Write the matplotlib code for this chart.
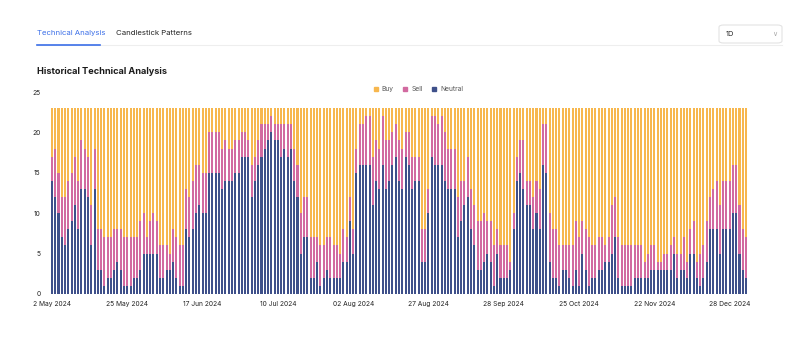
import matplotlib.pyplot as plt
from matplotlib.patches import FancyBboxPatch, Patch
from matplotlib.lines import Line2D

plt.rcParams['font.family'] = ['Inter', 'DejaVu Sans']

# (neutral count, neutral + sell), total is always 23
pairs = [
    (14, 17), (12, 18), (10, 15), (7, 12), (6, 12), (8, 14), (9, 15), (11, 17), (8, 14), (13, 19),
    (13, 18), (12, 17), (6, 11), (13, 18), (3, 8), (3, 8), (1, 7), (2, 7),
    (2, 7), (3, 8), (4, 8), (3, 8), (1, 7), (1, 7), (1, 7), (2, 7), (2, 7), (3, 9),
    (5, 10), (5, 7), (5, 9), (5, 10), (5, 9), (2, 6), (2, 6), (3, 6), (3, 5), (4, 8),
    (2, 7), (1, 6), (1, 6), (8, 13), (7, 12), (8, 14), (10, 16), (11, 16), (10, 15), (10, 15),
    (15, 20), (15, 20), (15, 20), (15, 20), (13, 18), (14, 19), (14, 18), (14, 18), (15, 19),
    (15, 19), (17, 20), (17, 20), (17, 19), (12, 16), (14, 17), (16, 19), (17, 21), (18, 21), (19, 21),
    (20, 22), (19, 21), (19, 21), (17, 21), (18, 21), (17, 21), (18, 21), (14, 18), (12, 16), (5, 10),
    (7, 12), (7, 12), (2, 7), (2, 7), (4, 7), (1, 6), (2, 6), (3, 7), (2, 7),
    (2, 6), (2, 6), (2, 5), (4, 8), (4, 7), (9, 12), (5, 8), (15, 18), (16, 21), (16, 21),
    (16, 22), (16, 22), (11, 17), (14, 19), (13, 18), (16, 22), (13, 19), (14, 19), (16, 20),
    (17, 21), (14, 19), (13, 18), (17, 20), (16, 20), (13, 17), (14, 17), (14, 17), (4, 8), (4, 8),
    (10, 13), (17, 22), (16, 22), (16, 21), (16, 22), (14, 20), (13, 18), (13, 18), (13, 18), (7, 12),
    (9, 14), (11, 14), (12, 17), (8, 13), (6, 11), (3, 9), (3, 9), (4, 10), (5, 9), (4, 9),
    (1, 6), (5, 8), (2, 6), (2, 6), (2, 6), (3, 4), (8, 10), (14, 17), (15, 19), (13, 19),
    (11, 14), (11, 14), (8, 12), (10, 14), (8, 13), (16, 21), (15, 21), (4, 10), (2, 8),
    (2, 8), (1, 6), (3, 6), (3, 6), (2, 6), (1, 6), (3, 9), (1, 7), (5, 9), (3, 8),
    (1, 7), (2, 6), (2, 6), (3, 7), (3, 7), (4, 6), (4, 7), (5, 11), (7, 12), (2, 7),
    (1, 6), (1, 6), (1, 6), (1, 6), (2, 6), (2, 6), (2, 6), (2, 4), (2, 5), (3, 6),
    (3, 6), (3, 4), (3, 4), (3, 5), (3, 5), (3, 6), (5, 7), (2, 5), (3, 5),
    (3, 7), (2, 4), (5, 8), (5, 9), (2, 4), (1, 5), (2, 6), (4, 9), (8, 12), (8, 13),
    (8, 14), (5, 11), (8, 14), (8, 14), (8, 14), (10, 16), (10, 16), (5, 11), (3, 8), (2, 7),
]
total = 23
neutral = [p[0] for p in pairs]
sell = [p[1] - p[0] for p in pairs]
buy = [total - p[1] for p in pairs]

tick_labels = ['2 May 2024', '25 May 2024', '17 Jun 2024', '10 Jul 2024', '02 Aug 2024',
               '27 Aug 2024', '28 Sep 2024', '25 Oct 2024', '22 Nov 2024', '28 Dec 2024']

c_buy = '#F7B74E'
c_sell = '#D26AA0'
c_neu = '#3E508A'

fig = plt.figure(figsize=(8, 3.58), dpi=100)
ax = fig.add_axes([0.0625, 0.179, 0.8725, 0.564])

x = list(range(len(pairs)))
w = 0.62
ax.bar(x, neutral, width=w, color=c_neu, linewidth=0)
ax.bar(x, sell, width=w, bottom=neutral, color=c_sell, linewidth=0)
ax.bar(x, buy, width=w, bottom=[p[1] for p in pairs], color=c_buy, linewidth=0)

ax.set_xlim(-0.6, len(pairs) - 0.4)
ax.set_ylim(0, 25)
ax.set_yticks([0, 5, 10, 15, 20, 25])
ax.set_xticks(range(0, len(pairs), 23)[:len(tick_labels)])
ax.set_xticklabels(tick_labels)
ax.tick_params(axis='both', length=0, labelsize=4.8, colors='#222222')
ax.tick_params(axis='x', pad=5)
ax.tick_params(axis='y', pad=7)
for s in ax.spines.values():
    s.set_visible(False)

handles = [Patch(color=c_buy, label='Buy'), Patch(color=c_sell, label='Sell'),
           Patch(color=c_neu, label='Neutral')]
fig.legend(handles=handles, loc='center', bbox_to_anchor=(0.523, 0.751), ncol=3,
           frameon=False, fontsize=4.8, handlelength=0.6, handleheight=0.6,
           handletextpad=0.6, columnspacing=1.4, labelcolor='#555555')

# header
fig.text(37 / 800, 1 - 33 / 358, 'Technical Analysis', color='#3B6FE8', fontsize=5.6, va='center')
fig.text(116 / 800, 1 - 33 / 358, 'Candlestick Patterns', color='#222222', fontsize=5.6, va='center')
fig.add_artist(Line2D([37 / 800, 782 / 800], [1 - 45 / 358] * 2, color='#EEEEEE', lw=0.8))
fig.add_artist(Line2D([37 / 800, 100 / 800], [1 - 45 / 358] * 2, color='#3B6FE8', lw=1.2))
fig.add_artist(FancyBboxPatch((719 / 800, 1 - 43 / 358), 63 / 800, 18 / 358,
                              boxstyle='round,pad=0,rounding_size=0.006',
                              transform=fig.transFigure, facecolor='white',
                              edgecolor='#E3E3E3', lw=0.8))
fig.text(726 / 800, 1 - 34 / 358, '1D', color='#222222', fontsize=5.4, va='center')
fig.text(775 / 800, 1 - 34 / 358, '∨', color='#AAAAAA', fontsize=5, va='center', ha='center')
fig.text(37 / 800, 1 - 71 / 358, 'Historical Technical Analysis', color='#1A1A1A',
         fontsize=6.6, fontweight='bold', va='center')

fig.savefig('out.png', dpi=100)
